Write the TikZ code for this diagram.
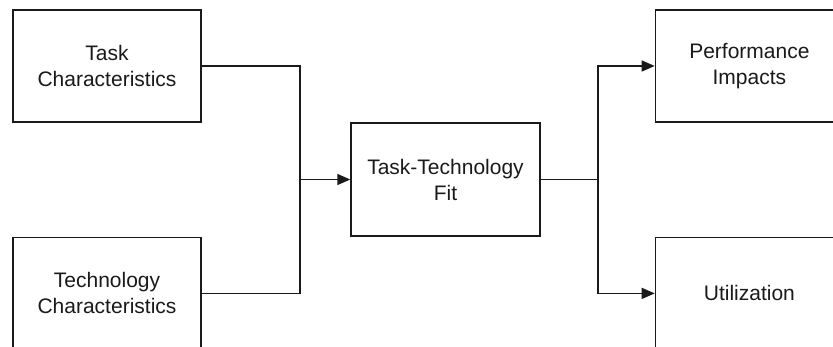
\documentclass[tikz,border=0pt]{standalone}
\usepackage{fontspec}
\setmainfont{Liberation Sans}
\usepackage{tikz}
\usetikzlibrary{arrows.meta,positioning,calc}
\definecolor{Ink}{HTML}{1A1A1A}
\tikzset{
  arr/.style={-{Triangle[length=13pt,width=11pt]},line width=1.4pt,draw=Ink},
  wire/.style={line width=1.4pt,draw=Ink},
  boxstyle/.style={draw=Ink,line width=1.4pt,fill=white,minimum width=188pt,minimum height=112pt,inner sep=0pt,align=center,text=Ink,font=\fontsize{21}{26}\selectfont}
}
\begin{document}
\begin{tikzpicture}[x=1pt,y=1pt]
  \useasboundingbox (0,0) rectangle (833,347);
  \node[boxstyle] (task) at (107,281) {Task\\Characteristics};
  \node[boxstyle,below=114pt of task] (tech) {Technology\\Characteristics};
  \node[boxstyle,minimum width=189pt,minimum height=113pt] (fit) at (445.5,167.5) {Task-Technology\\Fit};
  \node[boxstyle,right=453pt of task] (perf) {Performance\\Impacts};
  \node[boxstyle,right=453pt of tech] (util) {Utilization};
  \coordinate (jin) at (300,167.5);
  \coordinate (jout) at (598,167.5);
  \draw[wire] (task.east) -| (jin) |- (tech.east);
  \draw[arr] (jin) -- (fit.west);
  \draw[wire] (fit.east) -- (jout);
  \draw[arr] (jout) |- (perf.west);
  \draw[arr] (jout) |- (util.west);
\end{tikzpicture}
\end{document}
